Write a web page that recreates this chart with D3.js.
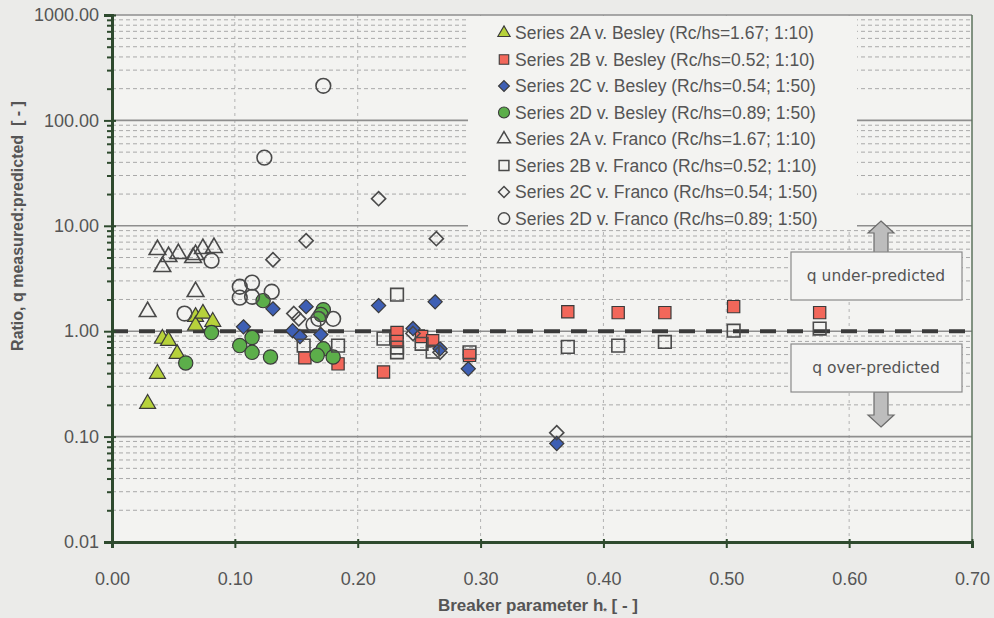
<!DOCTYPE html>
<html>
<head>
<meta charset="utf-8">
<script src="https://cdn.jsdelivr.net/npm/d3@7/dist/d3.min.js"></script>
<style>
  html, body { margin: 0; padding: 0; background: #ebebe9; }
  svg { display: block; }
</style>
</head>
<body>
<svg id="chart" width="994" height="618"></svg>
<script>
// ---- data: [breaker parameter h, measured:predicted ratio] ----
const s2aBesley = [[0.029,0.205],[0.037,0.395],[0.041,0.85],[0.046,0.81],[0.053,0.61],[0.068,1.37],[0.068,1.13],[0.074,1.47],[0.082,1.23]];
const s2bBesley = [[0.157,0.56],[0.184,0.49],[0.221,0.41],[0.232,0.97],[0.232,0.80],[0.252,0.89],[0.261,0.81],[0.291,0.59],[0.371,1.53],[0.412,1.50],[0.450,1.50],[0.506,1.71],[0.576,1.50]];
const s2cBesley = [[0.107,1.10],[0.131,1.63],[0.158,1.71],[0.147,1.01],[0.153,0.89],[0.170,0.93],[0.217,1.75],[0.263,1.90],[0.245,1.06],[0.267,0.68],[0.290,0.44],[0.362,0.086]];
const s2dBesley = [[0.060,0.50],[0.081,0.97],[0.104,0.73],[0.114,0.87],[0.114,0.63],[0.123,1.95],[0.129,0.57],[0.172,1.60],[0.170,1.44],[0.172,0.68],[0.167,0.59],[0.180,0.57]];
const s2aFranco = [[0.037,5.93],[0.041,4.09],[0.046,5.09],[0.054,5.44],[0.066,4.98],[0.068,5.32],[0.074,6.06],[0.083,6.20],[0.068,2.37],[0.029,1.53]];
const s2bFranco = [[0.156,0.73],[0.184,0.73],[0.221,0.85],[0.232,2.22],[0.232,0.70],[0.232,0.63],[0.252,0.76],[0.261,0.64],[0.291,0.63],[0.371,0.71],[0.412,0.73],[0.450,0.79],[0.506,1.01],[0.576,1.06]];
const s2cFranco = [[0.158,7.22],[0.131,4.77],[0.217,18.1],[0.264,7.55],[0.148,1.47],[0.152,1.31],[0.245,0.95],[0.267,0.63],[0.362,0.109]];
const s2dFranco = [[0.081,4.67],[0.059,1.47],[0.104,2.64],[0.114,2.89],[0.104,2.08],[0.114,2.12],[0.130,2.37],[0.168,1.31],[0.180,1.31],[0.172,213],[0.124,44.3],[0.164,1.16]];

const legendLabels = [
  "Series 2A v. Besley (Rc/hs=1.67; 1:10)",
  "Series 2B v. Besley (Rc/hs=0.52; 1:10)",
  "Series 2C v. Besley (Rc/hs=0.54; 1:50)",
  "Series 2D v. Besley (Rc/hs=0.89; 1:50)",
  "Series 2A v. Franco (Rc/hs=1.67; 1:10)",
  "Series 2B v. Franco (Rc/hs=0.52; 1:10)",
  "Series 2C v. Franco (Rc/hs=0.54; 1:50)",
  "Series 2D v. Franco (Rc/hs=0.89; 1:50)"
];
const xTicks = [0, 0.1, 0.2, 0.3, 0.4, 0.5, 0.6, 0.7];
const yTicks = [0.01, 0.1, 1, 10, 100, 1000];
const referenceRatio = 1;

// ---- layout ----
const svg = d3.select("#chart");
const L = 112, R = 972, T = 15, B = 542;
const x = d3.scaleLinear().domain([0, 0.7]).range([L, R]);
const y = d3.scaleLog().domain([0.01, 1000]).range([B, T]);

const FONT = "'Liberation Sans', Arial, Helvetica, sans-serif";
const AXIS = "#2e4a2e";
const TEXT = "#555";

// plot area background
svg.append("rect").attr("x", L).attr("y", T).attr("width", R - L).attr("height", B - T).attr("fill", "#f3f3f1");

// minor values between decades
const minorY = [];
yTicks.slice(0, -1).forEach(d => { for (let k = 2; k <= 9; k++) minorY.push(d * k); });

const grid = svg.append("g");
grid.selectAll(".minor").data(minorY).join("line")
  .attr("x1", L).attr("x2", R).attr("y1", d => y(d)).attr("y2", d => y(d))
  .attr("stroke", "#a9a9a9").attr("stroke-width", 1).attr("stroke-dasharray", "4,3");
grid.selectAll(".vx").data(xTicks.slice(1, -1)).join("line")
  .attr("x1", d => x(d)).attr("x2", d => x(d)).attr("y1", T).attr("y2", B)
  .attr("stroke", "#b3b3b3").attr("stroke-width", 1).attr("stroke-dasharray", "3,4");
grid.selectAll(".major").data(yTicks.slice(1)).join("line")
  .attr("x1", L).attr("x2", R).attr("y1", d => y(d)).attr("y2", d => y(d))
  .attr("stroke", "#8e8e8e").attr("stroke-width", 1.6);
// right border
svg.append("line").attr("x1", R).attr("x2", R).attr("y1", T).attr("y2", B).attr("stroke", "#5c735c").attr("stroke-width", 1.5);

// reference line at ratio = 1
svg.append("line").attr("x1", L).attr("x2", R).attr("y1", y(referenceRatio)).attr("y2", y(referenceRatio))
  .attr("stroke", "#3a3a3a").attr("stroke-width", 4).attr("stroke-dasharray", "16,11");

// ---- annotation boxes with arrows ----
const ann = svg.append("g");
function arrow(cx, tipY, baseY, up) {
  const hw = 13, sw = 7, hh = 12;
  const dir = up ? 1 : -1;
  const headBase = tipY + dir * hh;
  const p = [[cx, tipY], [cx + hw, headBase], [cx + sw, headBase], [cx + sw, baseY], [cx - sw, baseY], [cx - sw, headBase], [cx - hw, headBase]];
  ann.append("path").attr("d", "M" + p.map(q => q.join(",")).join("L") + "Z")
    .attr("fill", "#bdbdbd").attr("stroke", "#6b6b6b").attr("stroke-width", 1.2);
}
arrow(881, 221, 253, true);
arrow(881, 427, 392, false);
[["q under-predicted", 252], ["q over-predicted", 344]].forEach(([t, yy]) => {
  ann.append("rect").attr("x", 791).attr("y", yy).attr("width", 171).attr("height", 48)
    .attr("fill", "#f4f4f3").attr("stroke", "#8a8a8a").attr("stroke-width", 1.2);
  ann.append("text").attr("x", 876).attr("y", yy + 24).attr("text-anchor", "middle").attr("dominant-baseline", "central")
    .attr("font-family", "'DejaVu Sans', Verdana, sans-serif").attr("font-size", 15.5).attr("fill", TEXT).text(t);
});

// ---- axes ----
const yAxis = svg.append("g").attr("transform", `translate(${L},0)`)
  .call(d3.axisLeft(y).tickValues(yTicks).tickFormat(d3.format(".2f")).tickSize(8).tickPadding(5));
svg.append("g").attr("transform", `translate(${L},0)`)
  .call(d3.axisLeft(y).tickValues(minorY).tickFormat("").tickSize(5))
  .call(g => g.select(".domain").remove());
const xAxis = svg.append("g").attr("transform", `translate(0,${B})`)
  .call(d3.axisBottom(x).tickValues(xTicks).tickFormat(d3.format(".2f")).tickSize(6).tickPadding(24));
[yAxis, xAxis].forEach(g => {
  g.select(".domain").attr("stroke", AXIS).attr("stroke-width", 3);
  g.selectAll("text").attr("font-family", FONT).attr("font-size", 18).attr("fill", TEXT);
});
svg.selectAll(".tick line").attr("stroke", AXIS).attr("stroke-width", 2);
// short inner stubs for major ticks
yAxis.selectAll(".tick").append("line").attr("x1", 0).attr("x2", 4).attr("stroke", AXIS).attr("stroke-width", 2);
xAxis.selectAll(".tick").append("line").attr("y1", 0).attr("y2", -3).attr("stroke", AXIS).attr("stroke-width", 2);

// axis titles
svg.append("text").attr("x", 538).attr("y", 611).attr("text-anchor", "middle")
  .attr("font-family", FONT).attr("font-weight", "bold").attr("font-size", 17).attr("fill", TEXT)
  .call(t => {
    t.append("tspan").text("Breaker parameter h");
    t.append("tspan").attr("font-size", 9).attr("dy", 3).text("*");
    t.append("tspan").attr("dy", -3).text(" [ - ]");
  });
svg.append("text").attr("transform", "translate(23,226) rotate(-90)").attr("text-anchor", "middle")
  .attr("font-family", FONT).attr("font-weight", "bold").attr("font-size", 16).attr("fill", TEXT)
  .attr("xml:space", "preserve")
  .text("Ratio, q measured:predicted  [ - ]");

// ---- series ----
const diamond = { draw(ctx, size) { const r = Math.sqrt(size) / 2 * Math.SQRT2; ctx.moveTo(0, -r); ctx.lineTo(r, 0); ctx.lineTo(0, r); ctx.lineTo(-r, 0); ctx.closePath(); } };
const series = [
  { data: s2aBesley, type: d3.symbolTriangle, size: 110, fill: "#b7d23b" },
  { data: s2bBesley, type: d3.symbolSquare, size: 150, fill: "#f2675a" },
  { data: s2cBesley, type: diamond, size: 100, fill: "#3e5fb4" },
  { data: s2dBesley, type: d3.symbolCircle, size: 160, fill: "#5cae4a" },
  { data: s2aFranco, type: d3.symbolTriangle, size: 120, fill: "none" },
  { data: s2bFranco, type: d3.symbolSquare, size: 160, fill: "none" },
  { data: s2cFranco, type: diamond, size: 100, fill: "none" },
  { data: s2dFranco, type: d3.symbolCircle, size: 170, fill: "none" }
];
series.forEach(s => {
  svg.append("g").selectAll("path").data(s.data).join("path")
    .attr("transform", d => `translate(${x(d[0])},${y(d[1])})`)
    .attr("d", d3.symbol(s.type, s.size))
    .attr("fill", s.fill)
    .attr("stroke", s.fill === "none" ? "#4a4a4a" : "#3a3a3a")
    .attr("stroke-width", s.fill === "none" ? 1.6 : 1.2);
});

// ---- legend ----
const lg = svg.append("g");
lg.append("rect").attr("x", 468).attr("y", T + 1).attr("width", 389).attr("height", 213).attr("fill", "#f3f3f1");
legendLabels.forEach((label, i) => {
  const s = series[i];
  const cy = 33 + i * 26.5;
  lg.append("path").attr("transform", `translate(504,${cy})`)
    .attr("d", d3.symbol(s.type, s.size * 0.6))
    .attr("fill", s.fill).attr("stroke", s.fill === "none" ? "#4a4a4a" : "#3a3a3a")
    .attr("stroke-width", s.fill === "none" ? 1.5 : 1.1);
  lg.append("text").attr("x", 515).attr("y", cy).attr("dominant-baseline", "central")
    .attr("font-family", FONT).attr("font-size", 17.5).attr("fill", TEXT).text(label);
});
</script>
</body>
</html>
